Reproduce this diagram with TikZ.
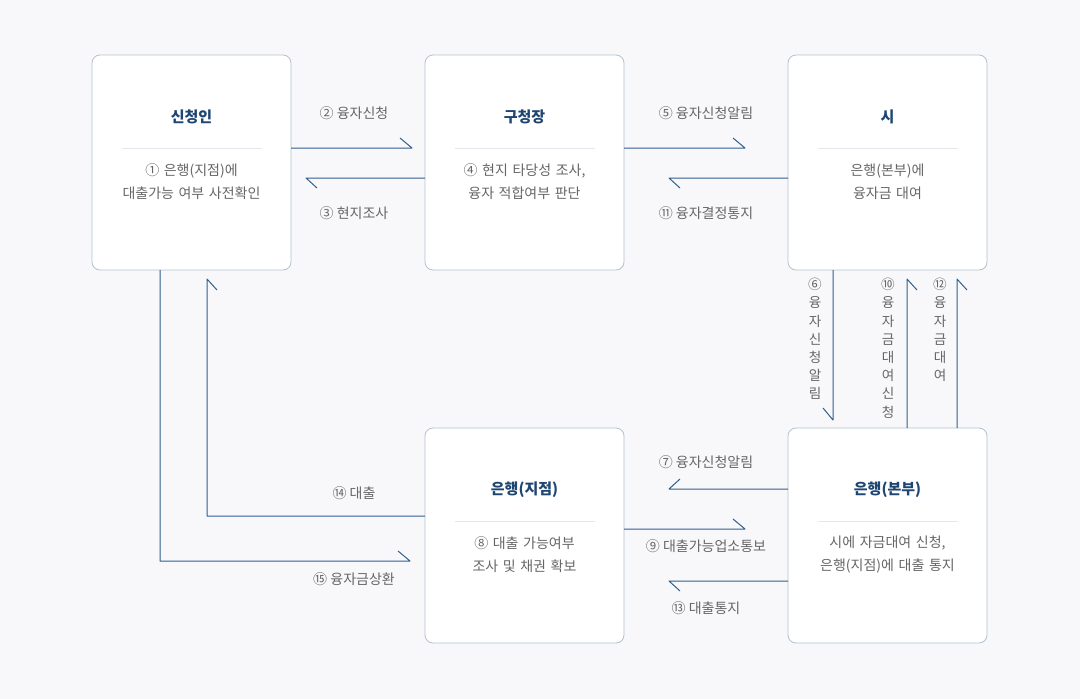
\documentclass[tikz,border=0pt]{standalone}
\usepackage{fontspec}
\setmainfont{Noto Sans CJK KR}
\usetikzlibrary{calc}
\definecolor{bgc}{HTML}{F8F8FA}
\definecolor{boxline}{HTML}{B3C1D1}
\definecolor{sepc}{HTML}{E4E7EB}
\definecolor{titlec}{HTML}{1F4673}
\definecolor{txtc}{HTML}{666666}
\definecolor{lnc}{HTML}{2F5F8F}
\newcommand\mywidesp{\spaceskip=4.6pt plus 1pt\relax}
\tikzset{
  box/.style={draw=boxline, line width=0.8pt, fill=white, rounded corners=8pt,
    minimum width=199pt, minimum height=215pt, inner sep=0pt, outer sep=0pt},
  ttl/.style={font=\fontsize{15}{17}\selectfont\bfseries, text=titlec, inner sep=0pt},
  body/.style={font=\fontsize{14}{23}\selectfont\mywidesp, text=txtc, align=center, inner sep=0pt},
  lbl/.style={font=\fontsize{14}{16}\selectfont, text=txtc, inner sep=0pt},
  vlbl/.style={font=\fontsize{13.6}{18.2}\selectfont, text=txtc, align=center, inner sep=0pt, anchor=north},
  sep/.style={draw=sepc, line width=0.8pt},
  ln/.style={draw=lnc, line width=1pt, line join=round}
}
\begin{document}
\begin{tikzpicture}[x=1pt,y=-1pt]
\fill[bgc] (0,0) rectangle (1080,699);
\useasboundingbox (0,0) rectangle (1080,699);

% boxes
\node[box] (b1) at (191.5,162.5) {};
\node[box] (b2) at (524.5,162.5) {};
\node[box] (b3) at (887.5,162.5) {};
\node[box] (b4) at (524.5,535.5) {};
\node[box] (b5) at (887.5,535.5) {};

% box contents
\node[ttl] (t1) at (191.5,117) {신청인};
\node[ttl] (t2) at (524.5,117) {구청장};
\node[ttl] (t3) at (887.5,117) {시};
\node[ttl] (t4) at (524.5,490) {은행(지점)};
\node[ttl] (t5) at (887.5,490) {은행(본부)};

\draw[sep] ($(b1.north)+(-70,93)$) coordinate (s1a) -- ($(b1.north)+(70,93)$) coordinate (s1b);
\draw[sep] ($(b2.north)+(-70,93)$) coordinate (s2a) -- ($(b2.north)+(70,93)$) coordinate (s2b);
\draw[sep] ($(b3.north)+(-70,93)$) coordinate (s3a) -- ($(b3.north)+(70,93)$) coordinate (s3b);
\draw[sep] ($(b4.north)+(-70,93)$) coordinate (s4a) -- ($(b4.north)+(70,93)$) coordinate (s4b);
\draw[sep] ($(b5.north)+(-70,93)$) coordinate (s5a) -- ($(b5.north)+(70,93)$) coordinate (s5b);

\node[body] (x1) at (191.5,181.5) {① 은행(지점)에\\대출가능 여부 사전확인};
\node[body] (x2) at (524.5,181.5) {④ 현지 타당성 조사,\\융자 적합여부 판단};
\node[body] (x3) at (887.5,181.5) {은행(본부)에\\융자금 대여};
\node[body] (x4) at (524.5,554.5) {⑧ 대출 가능여부\\조사 및 채권 확보};
\node[body] (x5) at (887.5,554.5) {시에 자금대여 신청,\\은행(지점)에 대출 통지};

% connectors
\draw[ln] ($(b1.east)+(0,-14.5)$) -- ($(b2.west)+(-13,-14.5)$) -- ++(-12,-10);
\draw[ln] ($(b2.west)+(0,15.5)$) -- ($(b1.east)+(15,15.5)$) -- ++(11,10);
\draw[ln] ($(b2.east)+(0,-14.5)$) -- ($(b3.west)+(-43,-14.5)$) -- ++(-12,-10);
\draw[ln] ($(b3.west)+(0,15.5)$) -- ($(b2.east)+(45,15.5)$) -- ++(11,10);
\draw[ln] ($(b3.south)+(-54.5,0)$) -- ($(b5.north)+(-54.5,-8)$) -- ++(-10,-12);
\draw[ln] ($(b5.north)+(19.5,0)$) -- ($(b3.south)+(19.5,9)$) -- ++(10,11);
\draw[ln] ($(b5.north)+(69.5,0)$) -- ($(b3.south)+(69.5,9)$) -- ++(10,11);
\draw[ln] ($(b5.west)+(0,-46.5)$) -- ($(b4.east)+(45,-46.5)$) -- ++(11,-10);
\draw[ln] ($(b4.east)+(0,-6.5)$) -- ($(b5.west)+(-43,-6.5)$) -- ++(-12,-10);
\draw[ln] ($(b5.west)+(0,45.5)$) -- ($(b4.east)+(45,45.5)$) -- ++(11,10);
\draw[ln] ($(b4.west)+(0,-19.5)$) -| ($(b1.south)+(15.5,9)$) -- ++(10,11);
\draw[ln] ($(b1.south)+(-31.5,0)$) |- ($(b4.west)+(-15,25.5)$) -- ++(-12,-10);

% labels
\node[lbl] (l2) at (354,113) {② 융자신청};
\node[lbl] (l3) at (354,213) {③ 현지조사};
\node[lbl] (l5) at (706,113) {⑤ 융자신청알림};
\node[lbl] (l11) at (706,213) {⑪ 융자결정통지};
\node[lbl] (l7) at (706,462) {⑦ 융자신청알림};
\node[lbl] (l9) at (706,546) {⑨ 대출가능업소통보};
\node[lbl] (l13) at (706,608) {⑬ 대출통지};
\node[lbl] (l14) at (354,493) {⑭ 대출};
\node[lbl] (l15) at (354,579) {⑮ 융자금상환};

\node[vlbl] (l6) at (815,278) {⑥\\융\\자\\신\\청\\알\\림};
\node[vlbl] (l10) at (888,278) {⑩\\융\\자\\금\\대\\여\\신\\청};
\node[vlbl] (l12) at (940,278) {⑫\\융\\자\\금\\대\\여};
\end{tikzpicture}
\end{document}
